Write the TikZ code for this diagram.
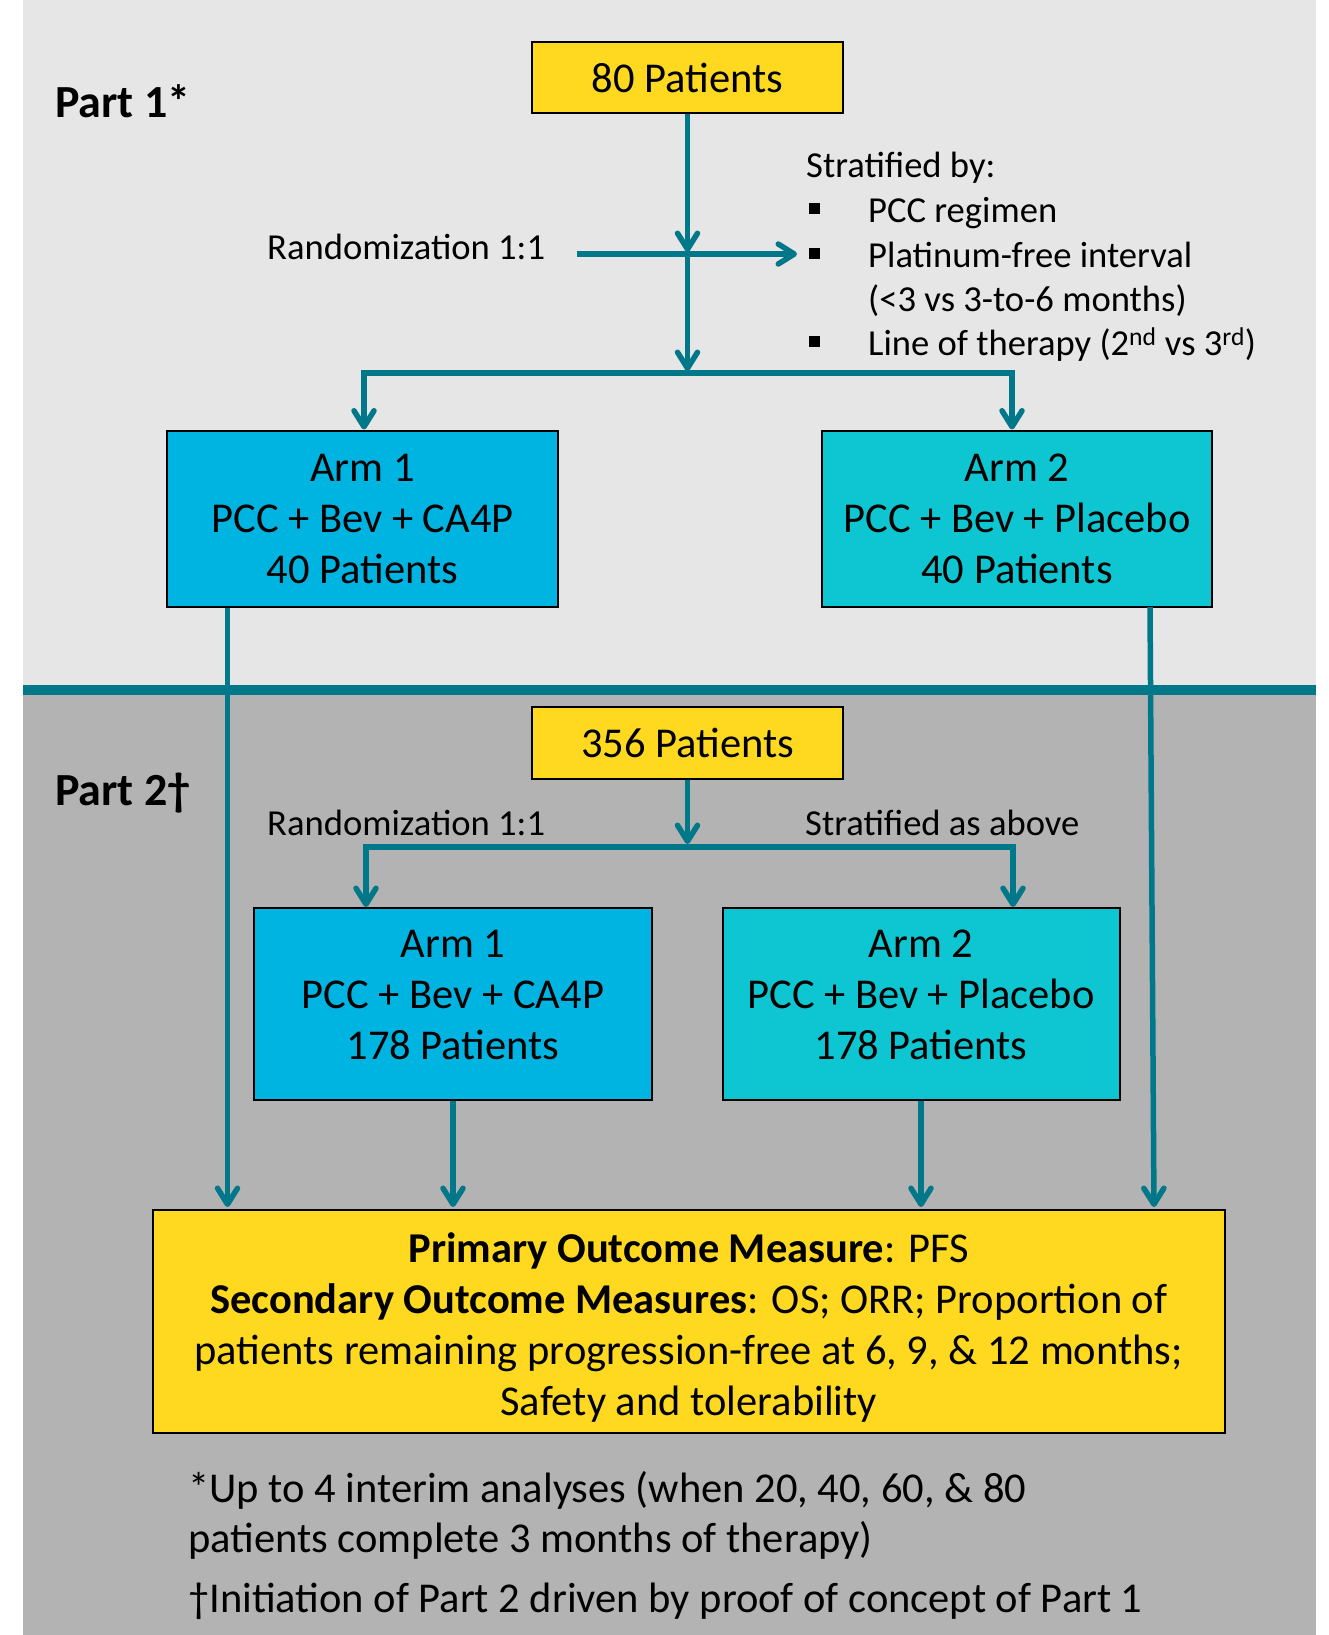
\documentclass[tikz,border=0pt]{standalone}
\usepackage{fontspec}
\setmainfont{Carlito}
\usetikzlibrary{arrows.meta}
\definecolor{yelc}{HTML}{FFD920}
\definecolor{arma}{HTML}{00B4E1}
\definecolor{armb}{HTML}{0DC6D1}
\definecolor{tealc}{HTML}{00788A}
\definecolor{lgray}{HTML}{E6E6E6}
\definecolor{dgray}{HTML}{B3B3B3}
\tikzset{
  boxbase/.style={draw=black, line width=2pt, inner sep=0pt, align=center,
    font=\fontsize{42.5}{51}\selectfont},
  yelbox/.style={boxbase, fill=yelc},
  armbox/.style={boxbase, fill=arma},
  armbbox/.style={boxbase, fill=armb},
  conn/.style={draw=tealc, line width=5.5pt},
  arr/.style={conn, -{Straight Barb[length=16pt,width=20pt,round]}},
  lbl/.style={anchor=base west, inner sep=0pt, font=\fontsize{36.6}{44}\selectfont},
  partlbl/.style={anchor=base west, inner sep=0pt, font=\fontsize{46}{55}\selectfont\bfseries},
  foot/.style={anchor=base west, inner sep=0pt, font=\fontsize{42.5}{51}\selectfont},
}
\begin{document}
\begin{tikzpicture}[x=1pt,y=-1pt]
\useasboundingbox (0,0) rectangle (1329,1635);
% backgrounds
\fill[lgray] (23,0) rectangle (1316,690);
\fill[dgray] (23,690) rectangle (1316,1635);

% labels for parts
\node[partlbl] (part1) at (55,118) {Part 1*};
\node[partlbl] (part2) at (55,805) {Part 2†};

% Part 1 boxes
\node[yelbox, minimum width=311pt, minimum height=71.5pt] (p1) at (687.5,77.75) {80 Patients};
\node[armbox, minimum width=391pt, minimum height=176.5pt] (a1) at (362.5,518.75)
  {Arm 1\\PCC + Bev + CA4P\\40 Patients};
\node[armbbox, minimum width=390pt, minimum height=176.5pt] (a2) at (1017,518.75)
  {Arm 2\\PCC + Bev + Placebo\\40 Patients};

% Part 1 texts
\node[lbl] (rnd1) at (267,259) {Randomization 1:1};
\node[lbl] (strat) at (806,177) {Stratified by:};
\node[lbl] (s1) at (868,222) {PCC regimen};
\node[lbl] (s2) at (868,267) {Platinum-free interval};
\node[lbl] (s3) at (868,311) {(<3 vs 3-to-6 months)};
\node[lbl] (s4) at (868,355) {Line of therapy (2\textsuperscript{nd} vs 3\textsuperscript{rd})};
\fill[black] (809,203) rectangle (820,214);
\fill[black] (809,248) rectangle (820,259);
\fill[black] (809,336) rectangle (820,347);

% Part 1 connectors
\coordinate (j1) at (687.5,252);
\coordinate (j2) at (687.5,371);
\coordinate (r1) at (577,254);
\coordinate (r2) at (797,254);
\coordinate (sl) at (364,373);
\coordinate (sr) at (1012,373);
\draw[arr] (p1.south) -- (j1);
\draw[arr] (j1) -- (j2);
\draw[arr] (r1) -- (r2);
\draw[conn, line cap=rect] (sl) -- (sr);
\draw[arr] (sl) -- (a1.north -| sl);
\draw[arr] (sr) -- (a2.north -| sr);

% Part 2 boxes
\node[yelbox, minimum width=311pt, minimum height=72pt] (p2) at (687.5,743) {356 Patients};
\node[armbox, minimum width=398pt, minimum height=192pt] (b1) at (453,1004)
  {Arm 1\\PCC + Bev + CA4P\\178 Patients\\[-32pt]\mbox{}};
\node[armbbox, minimum width=397pt, minimum height=192pt] (b2) at (921,1004)
  {Arm 2\\PCC + Bev + Placebo\\178 Patients\\[-32pt]\mbox{}};
\node[yelbox, minimum width=1072.5pt, minimum height=223pt] (out) at (688.75,1321.5)
  {\rule{0pt}{41pt}\textbf{Primary Outcome Measure}: PFS\\
   \textbf{Secondary Outcome Measures}: OS; ORR; Proportion of\\
   patients remaining progression-free at 6, 9, \& 12 months;\\
   Safety and tolerability};

% Part 2 texts
\node[lbl] (rnd2) at (267,835) {Randomization 1:1};
\node[lbl] (strat2) at (805,835) {Stratified as above};

% Part 2 connectors
\coordinate (k1) at (687.5,844);
\coordinate (tl) at (366,847);
\coordinate (tr) at (1013,847);
\draw[arr] (p2.south) -- (k1);
\draw[conn, line cap=rect] (tl) -- (tr);
\draw[arr] (tl) -- (b1.north -| tl);
\draw[arr] (tr) -- (b2.north -| tr);

% long lines from part 1 arms
\coordinate (la) at (227.5,0);
\coordinate (lb1) at (1150,607);
\coordinate (lb2) at (1154,1209);
\draw[arr, shorten >=2pt] (a1.south -| la) -- (out.north -| la);
\draw[arr, shorten >=2pt] (lb1) -- (lb2);
\draw[arr, shorten >=2pt] (b1.south) -- (out.north -| b1.south);
\draw[arr, shorten >=2pt] (b2.south) -- (out.north -| b2.south);

% divider
\draw[tealc, line width=10pt] (23,689.5) -- (1316,689.5);

% footnotes
\node[foot] (f1) at (188,1502) {*Up to 4 interim analyses (when 20, 40, 60, \& 80};
\node[foot] (f2) at (188,1552) {patients complete 3 months of therapy)};
\node[foot] (f3) at (188,1612) {†Initiation of Part 2 driven by proof of concept of Part 1};
\end{tikzpicture}
\end{document}
